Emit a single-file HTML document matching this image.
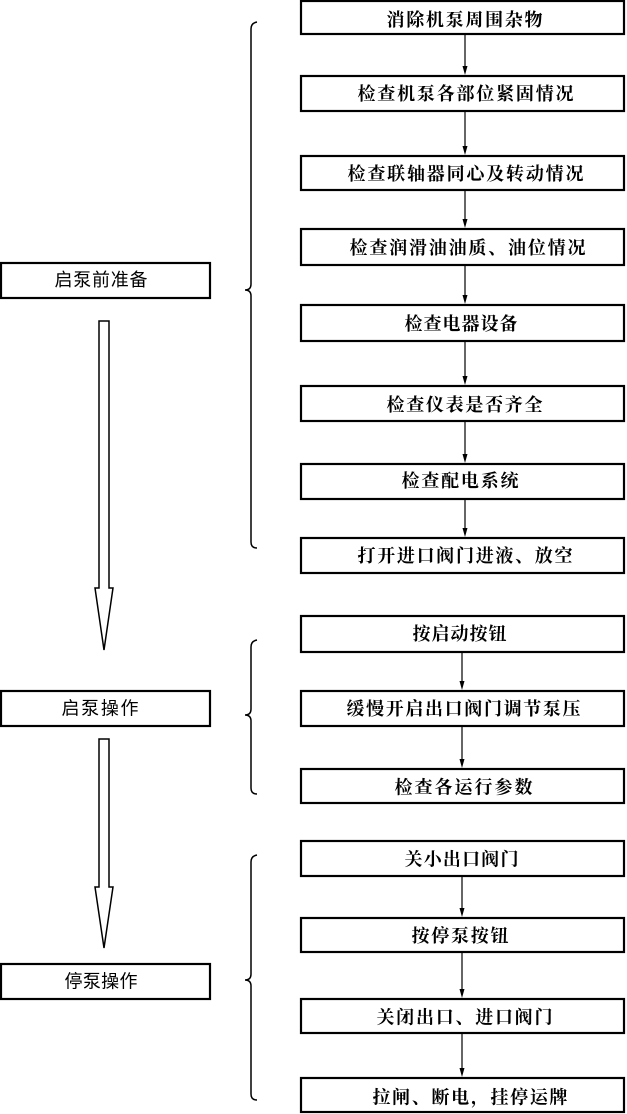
<!DOCTYPE html>
<html><head><meta charset="utf-8"><style>
html,body{margin:0;padding:0;background:#fff;}
svg{display:block;}
text{font-family:"Liberation Serif","Noto Serif CJK SC","Noto Sans CJK SC",serif;font-size:18px;fill:#000;font-weight:bold;}
text.l{font-family:"Liberation Sans","Noto Sans CJK SC","WenQuanYi Zen Hei",sans-serif;font-weight:normal;}
</style></head><body>
<svg width="627" height="1114" viewBox="0 0 627 1114" xmlns="http://www.w3.org/2000/svg">
<g fill="#fff" stroke="#000" stroke-width="2.2">
<rect x="301" y="1" width="323" height="33"/>
<rect x="301" y="76" width="323" height="35"/>
<rect x="301" y="156" width="323" height="34"/>
<rect x="301" y="229" width="323" height="36"/>
<rect x="301" y="305" width="323" height="36"/>
<rect x="301" y="386" width="323" height="35"/>
<rect x="301" y="464" width="323" height="35"/>
<rect x="301" y="538" width="323" height="35"/>
<rect x="301" y="616" width="323" height="36"/>
<rect x="301" y="691" width="323" height="35"/>
<rect x="301" y="769" width="323" height="34"/>
<rect x="301" y="841" width="323" height="35"/>
<rect x="301" y="918" width="323" height="34"/>
<rect x="301" y="999" width="323" height="34"/>
<rect x="301" y="1078" width="323" height="34"/>
<rect x="1" y="263" width="209" height="35"/>
<rect x="1" y="691" width="209" height="35"/>
<rect x="1" y="964" width="209" height="35"/>
</g>
<g stroke="#000" stroke-width="1.2" fill="none">
<line x1="465" y1="35" x2="465" y2="70"/>
<line x1="465" y1="112" x2="465" y2="150"/>
<line x1="465" y1="191" x2="465" y2="223"/>
<line x1="465" y1="266" x2="465" y2="299"/>
<line x1="465" y1="342" x2="465" y2="380"/>
<line x1="465" y1="422" x2="465" y2="458"/>
<line x1="465" y1="500" x2="465" y2="532"/>
<line x1="462" y1="653" x2="462" y2="685"/>
<line x1="462" y1="727" x2="462" y2="763"/>
<line x1="462" y1="877" x2="462" y2="912"/>
<line x1="462" y1="953" x2="462" y2="993"/>
<line x1="462" y1="1034" x2="462" y2="1072"/>
</g>
<g fill="#000">
<polygon points="462.5,66 467.5,66 465,75"/>
<polygon points="462.5,146 467.5,146 465,155"/>
<polygon points="462.5,219 467.5,219 465,228"/>
<polygon points="462.5,295 467.5,295 465,304"/>
<polygon points="462.5,376 467.5,376 465,385"/>
<polygon points="462.5,454 467.5,454 465,463"/>
<polygon points="462.5,528 467.5,528 465,537"/>
<polygon points="459.5,681 464.5,681 462,690"/>
<polygon points="459.5,759 464.5,759 462,768"/>
<polygon points="459.5,908 464.5,908 462,917"/>
<polygon points="459.5,989 464.5,989 462,998"/>
<polygon points="459.5,1068 464.5,1068 462,1077"/>
</g>
<g stroke="#000" stroke-width="1.5" fill="none">
<path d="M257,22 Q251,23 251,29 L251,284 Q251,290 245,290 Q251,290 251,296 L251,542 Q251,548 257,548"/>
<path d="M257,640 Q251,641 251,647 L251,709 Q251,715 245,715 Q251,715 251,721 L251,788 Q251,794 257,794"/>
<path d="M257,855 Q251,856 251,862 L251,974 Q251,980 245,980 Q251,980 251,986 L251,1094 Q251,1100 257,1100"/>
</g>
<g stroke="#000" stroke-width="1.5" fill="#fff">
<polygon points="99,321 109,321 109,588 113,588 104,650 95,588 99,588"/>
<polygon points="99,739 109,739 109,887 113,887 104,948 95,887 99,887"/>
</g>
<g text-anchor="middle" dominant-baseline="central">
<text x="464.5" y="20" textLength="156" lengthAdjust="spacing">消除机泵周围杂物</text>
<text x="465.5" y="94" textLength="216" lengthAdjust="spacing">检查机泵各部位紧固情况</text>
<text x="465.5" y="174" textLength="236" lengthAdjust="spacing">检查联轴器同心及转动情况</text>
<text x="467.5" y="248" textLength="236" lengthAdjust="spacing">检查润滑油油质、油位情况</text>
<text x="461" y="324" textLength="113" lengthAdjust="spacing">检查电器设备</text>
<text x="464.5" y="405" textLength="156" lengthAdjust="spacing">检查仪表是否齐全</text>
<text x="460" y="481" textLength="117" lengthAdjust="spacing">检查配电系统</text>
<text x="465" y="556" textLength="215" lengthAdjust="spacing">打开进口阀门进液、放空</text>
<text x="459.5" y="634" textLength="94" lengthAdjust="spacing">按启动按钮</text>
<text x="463.5" y="709" textLength="234" lengthAdjust="spacing">缓慢开启出口阀门调节泵压</text>
<text x="463.5" y="787.5" textLength="138" lengthAdjust="spacing">检查各运行参数</text>
<text x="461.5" y="859.5" textLength="114" lengthAdjust="spacing">关小出口阀门</text>
<text x="460" y="936" textLength="97" lengthAdjust="spacing">按停泵按钮</text>
<text x="464.5" y="1017.5" textLength="176" lengthAdjust="spacing">关闭出口、进口阀门</text>
<text x="470" y="1097.5" textLength="195" lengthAdjust="spacing">拉闸、断电，挂停运牌</text>
<text class="l" x="101" y="280" textLength="93" lengthAdjust="spacing">启泵前准备</text>
<text class="l" x="100" y="708.5" textLength="77" lengthAdjust="spacing">启泵操作</text>
<text class="l" x="101" y="981.5" textLength="73" lengthAdjust="spacing">停泵操作</text>
</g>
</svg>
</body></html>
